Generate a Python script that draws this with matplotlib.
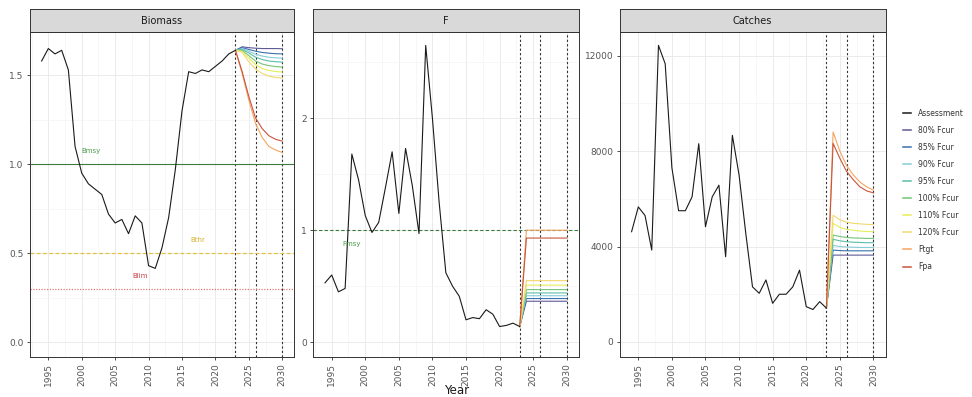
import matplotlib
matplotlib.use('Agg')
import matplotlib.pyplot as plt
from matplotlib.lines import Line2D

# ---- data ----
years = list(range(1994, 2024))
proj_years = list(range(2023, 2031))

biomass = [1.58, 1.65, 1.62, 1.64, 1.53, 1.10, 0.95, 0.89, 0.86, 0.83,
           0.72, 0.67, 0.69, 0.61, 0.71, 0.67, 0.43, 0.415, 0.53, 0.70,
           0.97, 1.30, 1.52, 1.51, 1.53, 1.52, 1.55, 1.58, 1.62, 1.64]
fmort = [0.53, 0.60, 0.45, 0.48, 1.68, 1.45, 1.13, 0.98, 1.07, 1.38,
         1.70, 1.15, 1.73, 1.40, 0.97, 2.65, 2.00, 1.25, 0.62, 0.50,
         0.41, 0.20, 0.22, 0.21, 0.29, 0.25, 0.14, 0.15, 0.17, 0.14]
catches = [4620, 5660, 5300, 3850, 12430, 11660, 7300, 5500, 5500, 6080,
           8310, 4830, 6080, 6570, 3570, 8660, 7000, 4550, 2310, 2040,
           2600, 1620, 2000, 2000, 2310, 3010, 1480, 1360, 1690, 1420]

scenarios = ['80% Fcur', '85% Fcur', '90% Fcur', '95% Fcur', '100% Fcur',
             '110% Fcur', '120% Fcur', 'Ftgt', 'Fpa']
scen_colors = ['#5E5A96', '#3A6FB0', '#86CCDA', '#5BBFA8', '#74C476',
               '#E4EE5A', '#F3D86E', '#F4A460', '#C8553D']

bio_proj = [
    [1.64, 1.66, 1.655, 1.652, 1.65, 1.65, 1.65, 1.649],
    [1.64, 1.655, 1.645, 1.635, 1.628, 1.624, 1.621, 1.62],
    [1.64, 1.65, 1.635, 1.618, 1.608, 1.601, 1.598, 1.596],
    [1.64, 1.645, 1.625, 1.602, 1.588, 1.58, 1.576, 1.574],
    [1.64, 1.64, 1.61, 1.58, 1.563, 1.554, 1.549, 1.546],
    [1.64, 1.635, 1.595, 1.56, 1.538, 1.527, 1.521, 1.518],
    [1.64, 1.63, 1.575, 1.535, 1.51, 1.495, 1.488, 1.484],
    [1.64, 1.51, 1.36, 1.23, 1.15, 1.10, 1.08, 1.066],
    [1.64, 1.52, 1.38, 1.26, 1.20, 1.16, 1.14, 1.13],
]
f_proj = [
    [0.14, 0.366, 0.366, 0.366, 0.366, 0.366, 0.366, 0.366],
    [0.14, 0.39, 0.39, 0.39, 0.39, 0.39, 0.39, 0.39],
    [0.14, 0.415, 0.415, 0.415, 0.415, 0.415, 0.415, 0.415],
    [0.14, 0.44, 0.44, 0.44, 0.44, 0.44, 0.44, 0.44],
    [0.14, 0.47, 0.47, 0.47, 0.47, 0.47, 0.47, 0.47],
    [0.14, 0.51, 0.51, 0.51, 0.51, 0.51, 0.51, 0.51],
    [0.14, 0.55, 0.55, 0.55, 0.55, 0.55, 0.55, 0.55],
    [0.14, 1.0, 1.0, 1.0, 1.0, 1.0, 1.0, 1.0],
    [0.14, 0.93, 0.93, 0.93, 0.93, 0.93, 0.93, 0.93],
]
catch_proj = [
    [1420, 3640, 3640, 3640, 3640, 3640, 3640, 3640],
    [1420, 3850, 3830, 3820, 3820, 3820, 3820, 3820],
    [1420, 4050, 4000, 3980, 3970, 3960, 3960, 3960],
    [1420, 4300, 4240, 4200, 4180, 4170, 4160, 4160],
    [1420, 4480, 4420, 4380, 4360, 4350, 4340, 4340],
    [1420, 4970, 4800, 4720, 4680, 4650, 4630, 4620],
    [1420, 5310, 5120, 5020, 4970, 4950, 4930, 4920],
    [1420, 8800, 8000, 7400, 7000, 6700, 6500, 6360],
    [1420, 8320, 7700, 7150, 6800, 6500, 6330, 6250],
]

vlines = [2023, 2026, 2030]
year_ticks = [1995, 2000, 2005, 2010, 2015, 2020, 2025, 2030]

W, H = 972, 397
fig = plt.figure(figsize=(W / 100, H / 100), dpi=100)


def panel(left, right, title, hist, proj, ylim, yticks, yminor, ylabels):
    ax = fig.add_axes([left / W, (H - 357) / H, (right - left) / W, 325 / H])
    ax.set_xlim(1992.2, 2031.8)
    ax.set_ylim(*ylim)
    ax.set_xticks(year_ticks)
    ax.set_xticks([1992.5 + 5 * i for i in range(8)], minor=True)
    ax.set_xticklabels([str(y) for y in year_ticks], rotation=90)
    ax.set_yticks(yticks)
    ax.set_yticks(yminor, minor=True)
    ax.set_yticklabels(ylabels)
    ax.grid(which='major', color='#EBEBEB', lw=0.7)
    ax.grid(which='minor', color='#F4F4F4', lw=0.5)
    ax.set_axisbelow(True)
    ax.tick_params(which='major', length=2.5, width=0.6, color='#333333',
                   labelsize=6.5, labelcolor='#555555', pad=2)
    ax.tick_params(which='minor', length=0)
    for s in ax.spines.values():
        s.set_color('#333333')
        s.set_linewidth(0.7)
    for v in vlines:
        ax.axvline(v, color='#333333', lw=0.8, ls=(0, (2, 2)), zorder=1)
    ax.plot(years, hist, color='#1A1A1A', lw=0.8, zorder=3)
    for vals, c in zip(proj, scen_colors):
        ax.plot(proj_years, vals, color=c, lw=0.8, zorder=2)
    # strip
    sax = fig.add_axes([left / W, (H - 32) / H, (right - left) / W, 23 / H])
    sax.set_facecolor('#D9D9D9')
    sax.set_xticks([])
    sax.set_yticks([])
    for s in sax.spines.values():
        s.set_color('#333333')
        s.set_linewidth(0.7)
    sax.text(0.5, 0.5, title, ha='center', va='center', fontsize=7,
             color='#1A1A1A', transform=sax.transAxes)
    return ax


ax1 = panel(29.6, 294.3, 'Biomass', biomass, bio_proj, (-0.083, 1.743),
            [0, 0.5, 1.0, 1.5], [0.25, 0.75, 1.25], ['0.0', '0.5', '1.0', '1.5'])
ax1.axhline(1.0, color='#3D7A3D', lw=0.8, zorder=1)
ax1.axhline(0.5, color='#E3C23C', lw=0.9, ls=(0, (3, 2)), zorder=1)
ax1.axhline(0.3, color='#E07A7A', lw=0.9, ls=(0, (1, 1.2)), zorder=1)
ax1.text(2001.4, 1.073, 'Bmsy', color='#4A9A4A', fontsize=5, ha='center', va='center')
ax1.text(2017.3, 0.574, 'Bthr', color='#D9B030', fontsize=5, ha='center', va='center')
ax1.text(2008.7, 0.372, 'Blim', color='#C8404A', fontsize=5, ha='center', va='center')

ax2 = panel(312.9, 578.8, 'F', fmort, f_proj, (-0.132, 2.77),
            [0, 1, 2], [0.5, 1.5, 2.5], ['0', '1', '2'])
ax2.axhline(1.0, color='#3D7A3D', lw=0.8, ls=(0, (3, 2)), zorder=1)
ax2.text(1998.0, 0.874, 'Fmsy', color='#4A9A4A', fontsize=5, ha='center', va='center')

ax3 = panel(619.5, 885.5, 'Catches', catches, catch_proj, (-630, 12990),
            [0, 4000, 8000, 12000], [2000, 6000, 10000], ['0', '4000', '8000', '12000'])

fig.text(457 / W, 1 - 391 / H, 'Year', ha='center', va='center', fontsize=8.5,
         color='#1A1A1A')

handles = [Line2D([], [], color='#1A1A1A', lw=1.1)]
handles += [Line2D([], [], color=c, lw=1.1) for c in scen_colors]
labels = ['Assessment'] + scenarios
fig.legend(handles, labels, loc='upper left', bbox_to_anchor=(903 / W, 1 - 109 / H),
           frameon=False, fontsize=5.5, handlelength=1.0, handletextpad=1.0,
           labelspacing=1.05, borderpad=0, borderaxespad=0, labelcolor='#333333')

fig.savefig('out.png', dpi=100)
